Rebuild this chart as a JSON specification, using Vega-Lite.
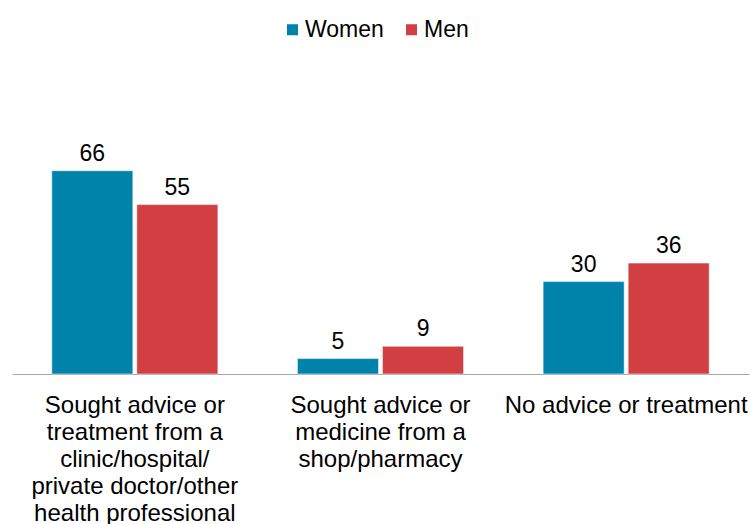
{
  "$schema": "https://vega.github.io/schema/vega-lite/v6.json",
  "width": 737,
  "height": 308,
  "autosize": {"type": "none"},
  "padding": {"top": 66, "left": 12, "right": 2, "bottom": 150},
  "background": "white",
  "config": {"font": "Liberation Sans", "view": {"stroke": null}},
  "data": {
    "values": [
      {"category": "Sought advice or treatment from a clinic/hospital/private doctor/other health professional", "group": "Women", "value": 66},
      {"category": "Sought advice or treatment from a clinic/hospital/private doctor/other health professional", "group": "Men", "value": 55},
      {"category": "Sought advice or medicine from a shop/pharmacy", "group": "Women", "value": 5},
      {"category": "Sought advice or medicine from a shop/pharmacy", "group": "Men", "value": 9},
      {"category": "No advice or treatment", "group": "Women", "value": 30},
      {"category": "No advice or treatment", "group": "Men", "value": 36}
    ]
  },
  "encoding": {
    "x": {
      "field": "category",
      "type": "nominal",
      "sort": null,
      "scale": {"paddingInner": 0.324, "paddingOuter": 0.162},
      "axis": {
        "title": null,
        "ticks": false,
        "labelAngle": 0,
        "labelFontSize": 24,
        "labelLineHeight": 27,
        "labelPadding": 19,
        "labelLimit": 0,
        "labelColor": "#000000",
        "domainColor": "#a6a6a6",
        "domainWidth": 1.2,
        "labelExpr": "datum.value == 'No advice or treatment' ? datum.value : (indexof(datum.value, 'clinic') >= 0 ? ['Sought advice or', 'treatment from a', 'clinic/hospital/', 'private doctor/other', 'health professional'] : ['Sought advice or', 'medicine from a', 'shop/pharmacy'])"
      }
    },
    "xOffset": {"field": "group", "type": "nominal", "sort": ["Women", "Men"], "scale": {"paddingInner": 0.047}},
    "y": {"field": "value", "type": "quantitative", "scale": {"domain": [0, 100]}, "axis": null}
  },
  "layer": [
    {
      "mark": {"type": "bar", "stroke": "#ffffff", "strokeWidth": 0.5},
      "encoding": {
        "color": {
          "field": "group",
          "type": "nominal",
          "sort": ["Women", "Men"],
          "scale": {"domain": ["Women", "Men"], "range": ["#0083ab", "#d13f43"]},
          "legend": {
            "title": null,
            "orient": "none",
            "legendX": 269,
            "legendY": -48,
            "direction": "horizontal",
            "symbolType": "square",
            "symbolSize": 121,
            "symbolStrokeWidth": 0,
            "labelFontSize": 23,
            "labelColor": "#000000",
            "columnPadding": 16,
            "labelOffset": 1
          }
        }
      }
    },
    {
      "mark": {"type": "text", "dy": -10, "baseline": "alphabetic", "fontSize": 23, "color": "#000000"},
      "encoding": {"text": {"field": "value", "type": "quantitative"}}
    }
  ]
}
